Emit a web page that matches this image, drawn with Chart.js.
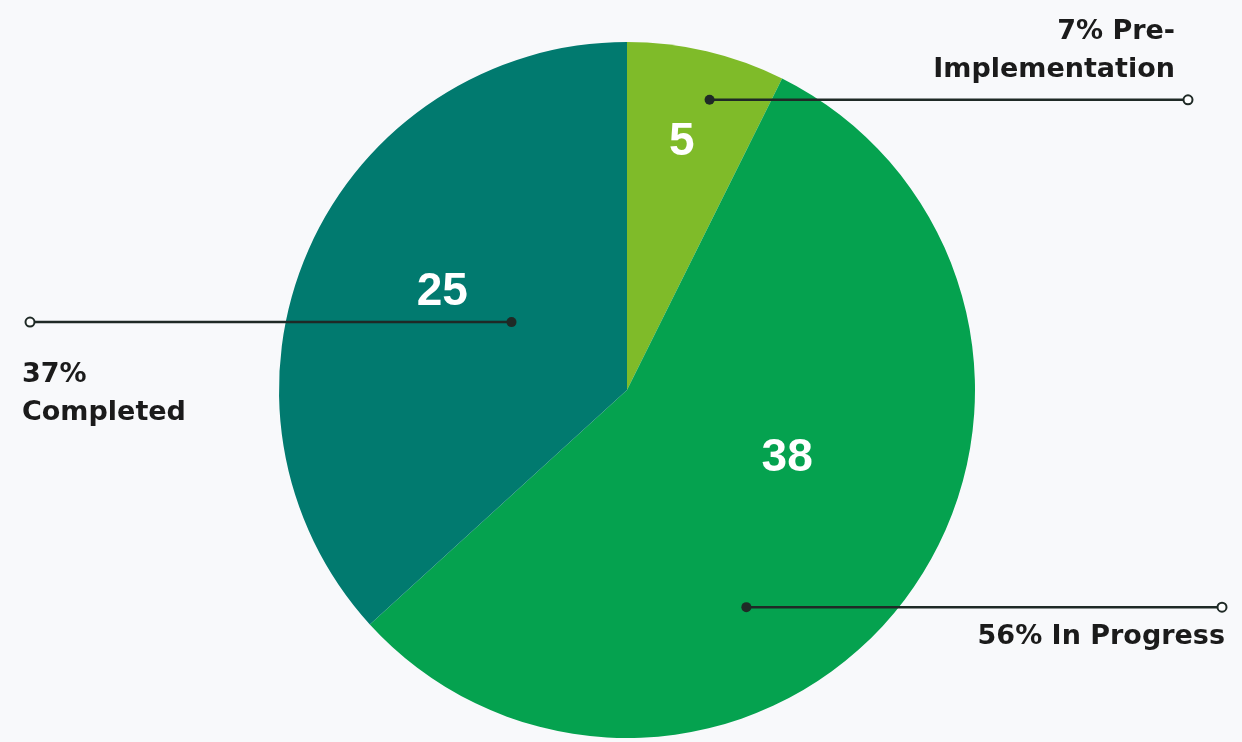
<!DOCTYPE html>
<html>
<head>
<meta charset="utf-8">
<script src="https://cdn.jsdelivr.net/npm/chart.js@4.4.0/dist/chart.umd.min.js"></script>
<style>
    html, body { margin: 0; padding: 0; background: #f8f9fb; overflow: hidden; }
    #wrap { width: 1242px; height: 742px; position: relative; }
</style>
</head>
<body>
<div id="wrap"><canvas id="statusChart"></canvas></div>
<script>
// ========================================
// DATA
// ========================================
const categories = ['Pre-Implementation', 'In Progress', 'Completed'];
const projectCounts = [5, 38, 25];
const calloutTexts = [
    ['7% Pre-', 'Implementation'],
    ['56% In Progress'],
    ['37%', 'Completed']
];
const sliceColors = ['#7fbb29', '#05a24f', '#017a6f'];

// ========================================
// LABEL + CALLOUT PLUGIN
// ========================================
const calloutPlugin = {
    id: 'callouts',
    afterDatasetsDraw(chart, args, opts) {
        const ctx = chart.ctx;
        const meta = chart.getDatasetMeta(0);
        const data = chart.data.datasets[0].data;

        meta.data.forEach((arc, i) => {
            const p = arc.getProps(['x', 'y', 'startAngle', 'endAngle', 'outerRadius'], true);
            const span = p.endAngle - p.startAngle;
            const spot = (at, r) => {
                const a = p.startAngle + span * at;
                return [p.x + Math.cos(a) * p.outerRadius * r, p.y + Math.sin(a) * p.outerRadius * r];
            };

            // value inside slice
            const v = opts.values[i];
            const [vx, vy] = spot(v.at, v.r);
            ctx.save();
            ctx.fillStyle = '#ffffff';
            ctx.font = 'bold 46px "Liberation Sans", Arial, sans-serif';
            ctx.textAlign = 'center';
            ctx.textBaseline = 'middle';
            ctx.fillText(String(data[i]), vx, vy);
            ctx.restore();

            // callout line
            const c = opts.items[i];
            const [dx, dy] = spot(c.at, c.r);
            ctx.save();
            ctx.strokeStyle = '#1f2a26';
            ctx.lineWidth = 2.5;
            ctx.beginPath();
            ctx.moveTo(dx, dy);
            ctx.lineTo(c.endX, dy);
            ctx.stroke();

            ctx.fillStyle = '#1f2a26';
            ctx.beginPath();
            ctx.arc(dx, dy, 5, 0, Math.PI * 2);
            ctx.fill();

            ctx.fillStyle = '#ffffff';
            ctx.lineWidth = 2;
            ctx.beginPath();
            ctx.arc(c.endX, dy, 4.5, 0, Math.PI * 2);
            ctx.fill();
            ctx.stroke();

            // callout text
            ctx.fillStyle = '#1b1b1b';
            ctx.font = 'bold 27px "DejaVu Sans", sans-serif';
            ctx.textAlign = c.align;
            ctx.textBaseline = 'middle';
            calloutTexts[i].forEach((line, j) => {
                ctx.fillText(line, c.textX, c.textY + j * 38);
            });
            ctx.restore();
        });
    }
};

// ========================================
// CHART
// ========================================
new Chart(document.getElementById('statusChart'), {
    type: 'pie',
    data: {
        labels: categories,
        datasets: [{
            data: projectCounts,
            backgroundColor: sliceColors,
            borderWidth: 0,
            hoverOffset: 0
        }]
    },
    options: {
        responsive: true,
        maintainAspectRatio: false,
        animation: false,
        layout: {
            padding: { left: 279, right: 267, top: 42, bottom: 4 }
        },
        plugins: {
            legend: { display: false },
            tooltip: { enabled: false },
            callouts: {
                values: [
                    { at: 0.47, r: 0.73 },
                    { at: 0.43, r: 0.50 },
                    { at: 0.53, r: 0.60 }
                ],
                items: [
                    { at: 0.60, r: 0.867, endX: 1188, align: 'right', textX: 1175, textY: 32 },
                    { at: 0.62, r: 0.712, endX: 1222, align: 'right', textX: 1225, textY: 637 },
                    { at: 0.55, r: 0.385, endX: 30, align: 'left', textX: 22, textY: 375 }
                ]
            }
        }
    },
    plugins: [calloutPlugin]
});
</script>
</body>
</html>
